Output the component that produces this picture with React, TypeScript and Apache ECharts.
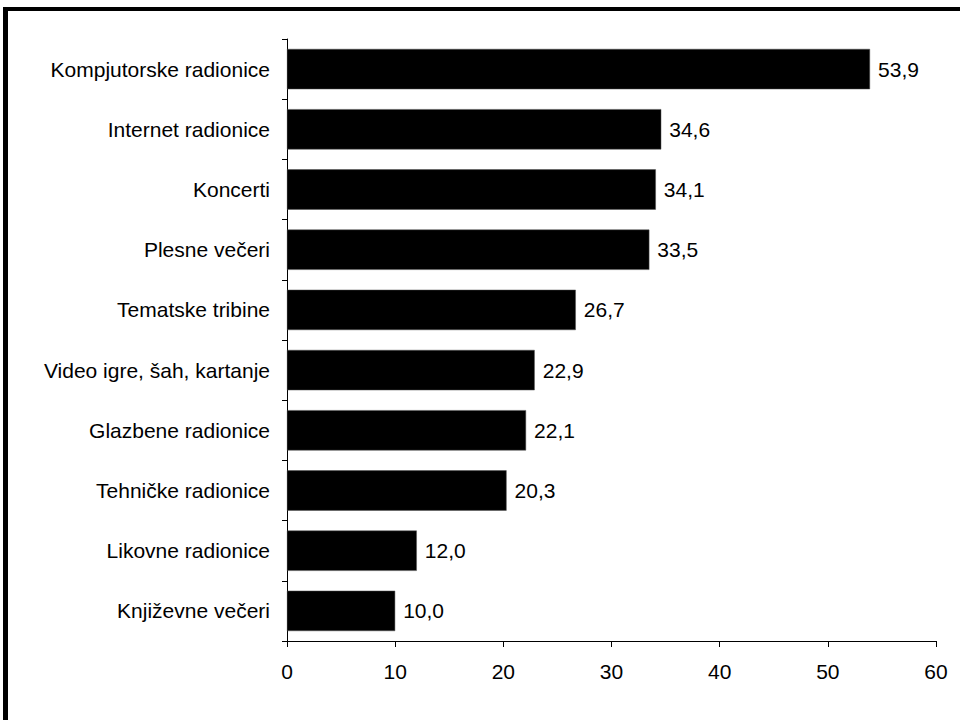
import React, { useEffect, useRef } from "react";
import * as echarts from "echarts";

const categories = [
  "Kompjutorske radionice",
  "Internet radionice",
  "Koncerti",
  "Plesne večeri",
  "Tematske tribine",
  "Video igre, šah, kartanje",
  "Glazbene radionice",
  "Tehničke radionice",
  "Likovne radionice",
  "Književne večeri",
];
const values = [53.9, 34.6, 34.1, 33.5, 26.7, 22.9, 22.1, 20.3, 12.0, 10.0];
const xTicks = [0, 10, 20, 30, 40, 50, 60];

export default function App() {
  const ref = useRef<HTMLDivElement>(null);
  useEffect(() => {
    document.body.style.margin = "0";
    if (!ref.current) return;
    const chart = echarts.init(ref.current, null, { renderer: "svg" });
    const font = "'Liberation Sans', Arial, sans-serif";
    chart.setOption({
      animation: false,
      backgroundColor: "#ffffff",
      graphic: [
        { type: "rect", shape: { x: 3, y: 7, width: 5, height: 720 }, style: { fill: "#000" } },
        { type: "rect", shape: { x: 3, y: 7, width: 960, height: 4 }, style: { fill: "#000" } },
      ],
      grid: { left: 287, right: 24, top: 39, bottom: 79, containLabel: false },
      xAxis: {
        type: "value",
        min: xTicks[0],
        max: xTicks[xTicks.length - 1],
        interval: 10,
        splitLine: { show: false },
        axisLine: { show: true, lineStyle: { color: "#000", width: 1 } },
        axisTick: { show: true, length: 6, lineStyle: { color: "#000" } },
        axisLabel: { color: "#000", fontSize: 21, fontFamily: font, margin: 20 },
      },
      yAxis: {
        type: "category",
        data: categories,
        inverse: true,
        axisLine: { show: true, lineStyle: { color: "#000", width: 1 } },
        axisTick: { show: true, length: 5, alignWithLabel: false, lineStyle: { color: "#000" } },
        axisLabel: { color: "#000", fontSize: 21, fontFamily: font, margin: 17 },
      },
      series: [
        {
          type: "bar",
          data: values,
          barCategoryGap: "33%",
          itemStyle: { color: "#000", borderColor: "#555", borderWidth: 0.5 },
          label: {
            show: true,
            position: "right",
            distance: 8,
            color: "#000",
            fontSize: 21,
            fontFamily: font,
            formatter: (p: any) => Number(p.value).toFixed(1).replace(".", ","),
          },
        },
      ],
    });
    return () => chart.dispose();
  }, []);
  return <div ref={ref} style={{ width: 960, height: 720 }} />;
}
